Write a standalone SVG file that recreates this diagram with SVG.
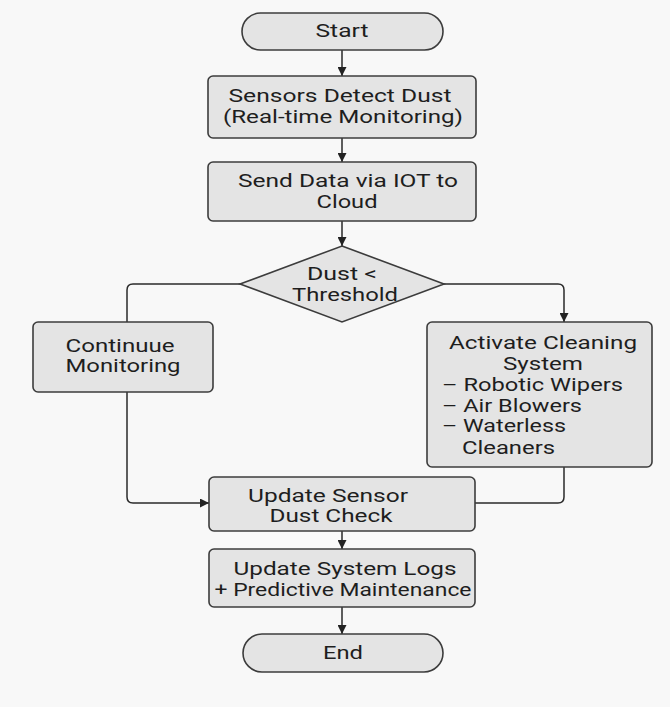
<svg xmlns="http://www.w3.org/2000/svg" width="670" height="707" viewBox="0 0 670 707">
<defs>
<marker id="arr" viewBox="0 0 10 10" refX="10" refY="5" markerWidth="9" markerHeight="9" markerUnits="userSpaceOnUse" orient="auto">
<path d="M0,0 L10,5 L0,10 Z" fill="#222"/>
</marker>
<style>
.box{fill:#e4e4e4;stroke:#3c3c3c;stroke-width:1.6}
.t{font-family:Roboto,"Liberation Sans",sans-serif;font-size:18px;fill:#1e1e1e}
.c{text-anchor:middle}
.ln{fill:none;stroke:#2a2a2a;stroke-width:1.5}
</style>
</defs>
<rect x="0" y="0" width="670" height="707" fill="#f8f8f8"/>
<g id="connectors">
<path class="ln" d="M342,50 V76" marker-end="url(#arr)"/>
<path class="ln" d="M342,138 V162" marker-end="url(#arr)"/>
<path class="ln" d="M342,221 V246" marker-end="url(#arr)"/>
<path class="ln" d="M240,284 H133 Q127,284 127,290 V322"/>
<path class="ln" d="M127,392 V497 Q127,503 133,503 H209" marker-end="url(#arr)"/>
<path class="ln" d="M444,284 H558 Q564,284 564,290 V322" marker-end="url(#arr)"/>
<path class="ln" d="M564,467 V497 Q564,503 558,503 H475"/>
<path class="ln" d="M342,531 V549" marker-end="url(#arr)"/>
<path class="ln" d="M342,607 V634" marker-end="url(#arr)"/>
</g>
<g id="start">
<rect class="box" x="242" y="13" width="201" height="37" rx="18.5"/>
<text class="t c" x="342" y="37" textLength="53" lengthAdjust="spacingAndGlyphs">Start</text>
</g>
<g id="sensors">
<rect class="box" x="208" y="76" width="268" height="62" rx="5"/>
<text class="t c" x="340" y="102" textLength="223" lengthAdjust="spacingAndGlyphs">Sensors Detect Dust</text>
<text class="t c" x="343" y="123" textLength="240" lengthAdjust="spacingAndGlyphs">(Real-time Monitoring)</text>
</g>
<g id="send">
<rect class="box" x="208" y="162" width="268" height="59" rx="5"/>
<text class="t c" x="348" y="187" textLength="220" lengthAdjust="spacingAndGlyphs">Send Data via IOT to</text>
<text class="t c" x="347" y="208" textLength="61" lengthAdjust="spacingAndGlyphs">Cloud</text>
</g>
<g id="decision">
<polygon class="box" points="342,246 444,284 342,322 240,284"/>
<text class="t c" x="342" y="280" textLength="70" lengthAdjust="spacingAndGlyphs">Dust &lt;</text>
<text class="t c" x="345" y="301" textLength="106" lengthAdjust="spacingAndGlyphs">Threshold</text>
</g>
<g id="continue">
<rect class="box" x="33" y="322" width="180" height="70" rx="5"/>
<text class="t c" x="120" y="352" textLength="109" lengthAdjust="spacingAndGlyphs">Continuue</text>
<text class="t c" x="123" y="372" textLength="115" lengthAdjust="spacingAndGlyphs">Monitoring</text>
</g>
<g id="activate">
<rect class="box" x="427" y="322" width="225" height="145" rx="5"/>
<text class="t c" x="543" y="349" textLength="188" lengthAdjust="spacingAndGlyphs">Activate Cleaning</text>
<text class="t c" x="543" y="370" textLength="80" lengthAdjust="spacingAndGlyphs">System</text>
<text class="t" x="442" y="391" textLength="181" lengthAdjust="spacingAndGlyphs">– Robotic Wipers</text>
<text class="t" x="442" y="412" textLength="140" lengthAdjust="spacingAndGlyphs">– Air Blowers</text>
<text class="t" x="442" y="432" textLength="124" lengthAdjust="spacingAndGlyphs">– Waterless</text>
<text class="t" x="462" y="454" textLength="93" lengthAdjust="spacingAndGlyphs">Cleaners</text>
</g>
<g id="update-sensor">
<rect class="box" x="209" y="477" width="266" height="54" rx="5"/>
<text class="t c" x="328" y="502" textLength="160" lengthAdjust="spacingAndGlyphs">Update Sensor</text>
<text class="t c" x="331" y="522" textLength="123" lengthAdjust="spacingAndGlyphs">Dust Check</text>
</g>
<g id="logs">
<rect class="box" x="209" y="549" width="266" height="58" rx="5"/>
<text class="t c" x="345" y="575" textLength="223" lengthAdjust="spacingAndGlyphs">Update System Logs</text>
<text class="t c" x="343" y="596" textLength="257" lengthAdjust="spacingAndGlyphs">+ Predictive Maintenance</text>
</g>
<g id="end">
<rect class="box" x="243" y="634" width="200" height="38" rx="19"/>
<text class="t c" x="343" y="659" textLength="40" lengthAdjust="spacingAndGlyphs">End</text>
</g>
</svg>
